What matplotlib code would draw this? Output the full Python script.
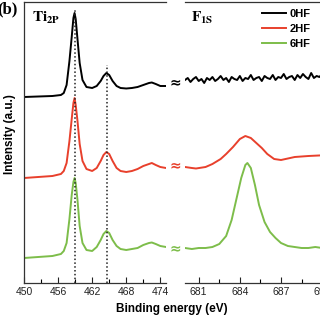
import matplotlib
matplotlib.use("Agg")
import matplotlib.pyplot as plt

plt.rcParams['font.family'] = ['Liberation Sans', 'DejaVu Sans']
plt.rcParams['mathtext.fontset'] = 'stix'

# ---------------- data (intensity in arbitrary units) ----------------
ti_x = [450.0, 455.0, 456.5, 457.0, 457.5, 458.0, 458.4, 458.7, 458.9, 459.1, 459.4,
        459.8, 460.3, 461.0, 462.0, 462.8, 463.5, 464.0, 464.5, 465.0, 465.6, 466.3,
        467.0, 468.0, 469.0, 470.0, 471.0, 472.0, 472.5, 473.2, 474.0, 475.0]
ti_0hf = [186, 187, 188, 190, 198, 222, 246, 265, 270, 264, 245,
          220, 203, 196, 195, 197, 202, 207, 210, 208, 202, 197,
          195, 194.5, 195, 196, 198, 200, 200.5, 199, 197, 197]
ti_2hf = [105, 107, 109, 112, 120, 142, 164, 180, 185, 178, 163,
          139, 122, 114, 112, 115, 122, 128, 131, 129, 122, 115,
          112, 111, 112, 114, 117, 119, 120, 118, 116, 115]
ti_6hf = [25, 27, 29, 32, 40, 64, 88, 101, 105, 100, 84,
          57, 40, 33, 32, 36, 43, 49, 52, 50, 43, 37,
          34, 33, 34, 35, 38, 40, 40.5, 39, 37, 36]

f_x_0hf = [680.0, 680.2, 680.4, 680.6, 680.8, 681.0, 681.2, 681.4, 681.6, 681.8,
           682.0, 682.2, 682.4, 682.6, 682.8, 683.0, 683.2, 683.4, 683.6, 683.8,
           684.0, 684.2, 684.4, 684.6, 684.8, 685.0, 685.2, 685.4, 685.6, 685.8,
           686.0, 686.2, 686.4, 686.6, 686.8, 687.0, 687.2, 687.4, 687.6, 687.8,
           688.0, 688.2, 688.4, 688.6, 688.8, 689.0, 689.2, 689.4, 689.6, 689.8,
           690.0, 690.2, 690.4]
f_0hf = [203, 205, 201, 204, 206, 202, 204, 200, 205, 203,
         206, 202, 204, 207, 203, 205, 201, 206, 204, 203,
         207, 202, 205, 204, 208, 203, 205, 206, 202, 207,
         205, 204, 208, 203, 206, 205, 209, 204, 206, 207,
         203, 208, 205, 209, 206, 204, 210, 205, 207, 206,
         209, 205, 207]

f_x_2hf = [680.0, 680.5, 680.8, 681.5, 682.0, 682.6, 683.0, 683.5, 684.0, 684.4,
           684.8, 685.2, 685.6, 686.0, 686.5, 687.0, 688.0, 689.0, 690.5]
f_2hf = [116, 115, 114.5, 116, 119, 124, 129, 136, 144, 147,
         145, 140, 135, 129, 124, 123, 126, 127, 128]

f_x_6hf = [680.0, 680.5, 681.0, 681.5, 682.0, 682.5, 683.0, 683.4, 683.8, 684.1,
           684.4, 684.55, 684.8, 685.1, 685.4, 685.8, 686.2, 686.6, 687.0, 687.5,
           688.0, 688.5, 689.0, 689.5, 690.0, 690.5]
f_6hf = [35, 34, 35, 35, 36, 39, 47, 63, 87, 105,
         118, 120, 115, 98, 78, 61, 51, 45, 40, 37,
         36, 35, 35, 36, 35, 35]

labels = ['0HF', '2HF', '6HF']
colors = ['#000000', '#e8402c', '#7dbd4a']
peak_lines = [458.9, 464.6]
peak_tops = [273, 218]
ti_ticks = [450, 456, 462, 468, 474]
f_ticks = [681, 684, 687, 690]

# ---------------- figure ----------------
W = H = 320
fig = plt.figure(figsize=(3.2, 3.2), dpi=100)
ax1 = fig.add_axes([24 / W, 37 / H, 142 / W, 281 / H])
ax2 = fig.add_axes([185 / W, 37 / H, 144 / W, 281 / H])

lw = 1.4
for ys, c in zip([ti_0hf, ti_2hf, ti_6hf], colors):
    ax1.plot(ti_x, ys, color=c, lw=lw)
for xs, ys, c, lab in zip([f_x_0hf, f_x_2hf, f_x_6hf], [f_0hf, f_2hf, f_6hf], colors, labels):
    ax2.plot(xs, ys, color=c, lw=lw, label=lab)

for xv, top in zip(peak_lines, peak_tops):
    ax1.plot([xv, xv], [0, top], color='#222222', lw=1.1, ls=(0, (1, 1.5)))

for ax in (ax1, ax2):
    ax.set_ylim(0, 281)
    ax.set_yticks([])
    ax.tick_params(axis='x', direction='in', length=4, width=0.8, labelsize=7.5, pad=3,
                   colors='#222222')
    ax.tick_params(axis='x', which='minor', direction='in', length=3, width=0.8)
    for s in ax.spines.values():
        s.set_linewidth(0.9)
        s.set_color('#333333')

ax1.set_xlim(450, 475)
ax1.set_xticks(ti_ticks)
ax1.set_xticks([453, 459, 465, 471], minor=True)
ax1.spines['right'].set_visible(False)

ax2.set_xlim(680, 690.5)
ax2.set_xticks(f_ticks)
ax2.set_xticks([682.5, 685.5, 688.5], minor=True)
ax2.spines['left'].set_visible(False)
ax2.spines['right'].set_visible(False)

ax1.set_ylabel('Intensity (a.u.)', fontsize=8.5, fontweight='bold')
ax1.yaxis.set_label_coords(-8 / 142, 0.53)

fig.text(172 / W, 1 - 309 / H, 'Binding energy (eV)', ha='center', va='center',
         fontsize=8.5, fontweight='bold')

# break marks
for ypx, c in zip([82, 165, 248], colors):
    fig.text(175 / W, 1 - ypx / H, '≈', ha='center', va='center', fontsize=10,
             color=c, fontweight='bold', family='DejaVu Sans')

fig.text(46 / W, 1 - 18 / H, r'$\mathbf{Ti_{2P}}$', ha='center', va='center', fontsize=11)
fig.text(202 / W, 1 - 18 / H, r'$\mathbf{F_{1S}}$', ha='center', va='center', fontsize=11)
fig.text(-3 / W, 1 - 9 / H, '(b)', ha='left', va='center', fontsize=12,
         fontweight='bold', family='Liberation Serif')

fig.legend(handles=ax2.get_lines(), labels=labels, loc='upper left',
           bbox_to_anchor=(262 / W, 1 - 9 / H), frameon=False,
           prop={'weight': 'bold', 'size': 8}, handlelength=2.2, handletextpad=0.3,
           labelspacing=0.45, borderpad=0, borderaxespad=0)

fig.savefig('out.png', dpi=100)
